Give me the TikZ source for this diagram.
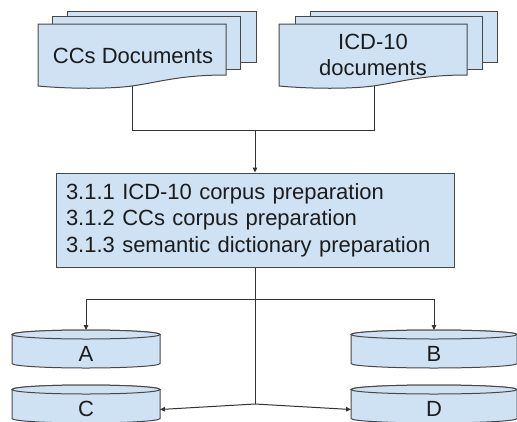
\documentclass[tikz,border=0pt]{standalone}
\usepackage{fontspec}
\setmainfont{Liberation Sans}
\usetikzlibrary{arrows.meta,calc}
\definecolor{fillb}{HTML}{CFE2F3}
\definecolor{edge}{HTML}{474747}
\definecolor{wire}{HTML}{333333}
\definecolor{txt}{HTML}{1C1C1C}
\newcommand{\drum}[5]{% #1 name, #2 cx, #3 yt, #4 yb, #5 rx
  \path[shapeline] (#2-#5,#3) -- (#2-#5,#4)
    arc[start angle=180,end angle=0,x radius=#5,y radius=4.5]
    -- (#2+#5,#3)
    arc[start angle=0,end angle=-180,x radius=#5,y radius=4.5] -- cycle;
  \draw[shapeline] (#2,#3) ellipse[x radius=#5,y radius=4.5];
  \coordinate (#1top) at (#2,#3-4.5);
  \coordinate (#1left) at (#2-#5,{(#3+#4)/2+5.5});
  \coordinate (#1right) at (#2+#5,{(#3+#4)/2+5.5});
}
\begin{document}
\begin{tikzpicture}[x=1pt,y=-1pt,
  shapeline/.style={draw=edge, fill=fillb, line width=1pt},
  conn/.style={draw=wire, line width=1pt},
  arr/.style={conn, -{Triangle[length=5pt,width=4.5pt]}},
  doctext/.style={font=\fontsize{22}{26}\selectfont, text=txt, align=center, inner sep=0pt},
  procbox/.style={shapeline, minimum width=398pt, minimum height=94pt, text width=378pt,
    inner xsep=10pt, inner ysep=0pt, align=left, text=txt,
    font=\fontsize{22}{26.5}\selectfont},
  drumtext/.style={font=\fontsize{22}{24}\selectfont, text=txt, inner sep=0pt}
]
\useasboundingbox (0,0) rectangle (517,421);

% CCs documents stack
\draw[shapeline] (67,11) rectangle (256,62);
\draw[shapeline] (52,16) rectangle (240,69);
\draw[shapeline] (38,24) -- (226,24) -- (226,75)
  .. controls (180,75) and (160,82) .. (132,86)
  .. controls (110,89) and (70,89) .. (38,86) -- cycle;
\node[doctext] (ccs) at (133,56) {CCs Documents};

% ICD-10 documents stack
\draw[shapeline] (310,11) rectangle (497,62);
\draw[shapeline] (295,16) rectangle (482,69);
\draw[shapeline] (279,24) -- (467,24) -- (467,75)
  .. controls (421,75) and (401,82) .. (373,86)
  .. controls (351,89) and (311,89) .. (279,86) -- cycle;
\node[doctext] (icd) at (373,55) {ICD-10\\documents};

% process box
\node[procbox] (box) at (255,220) {3.1.1 ICD-10 corpus preparation\\3.1.2 CCs corpus preparation\\3.1.3 semantic dictionary preparation};

% cylinders
\drum{A}{86}{334.5}{363.5}{74}
\drum{B}{434}{334.5}{363.5}{83}
\drum{C}{86}{389.5}{418.5}{74}
\drum{D}{434}{389.5}{418.5}{83}
\node[drumtext] (a) at (86,354) {A};
\node[drumtext] (b) at (434,354) {B};
\node[drumtext] (c) at (86,409) {C};
\node[drumtext] (d) at (434,409) {D};

% connectors
\coordinate (ccsout) at (132,86);
\coordinate (icdout) at (374,86);
\coordinate (join) at (255,130);
\coordinate (fork) at (255,299);
\coordinate (base) at (255,404);
\draw[conn] (ccsout) -- ++(0,44) -| (icdout);
\draw[arr] (join) -- (box.north);
\draw[conn] (box.south) -- (base);
\draw[arr] (fork) -| (Atop);
\draw[arr] (fork) -| (Btop);
\draw[arr] (base) -- (Cright);
\draw[arr] (base) -- (Dleft);
\end{tikzpicture}
\end{document}
